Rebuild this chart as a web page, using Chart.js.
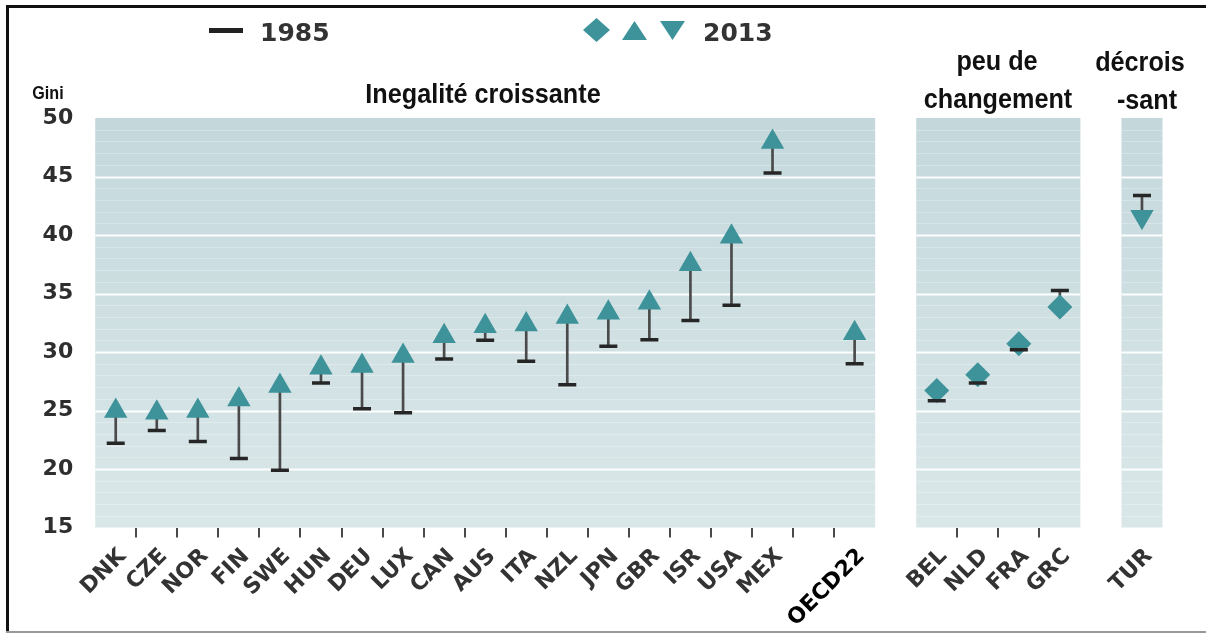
<!DOCTYPE html>
<html>
<head>
<meta charset="utf-8">
<script src="https://cdn.jsdelivr.net/npm/chart.js@4.4.0/dist/chart.umd.min.js"></script>
<style>
html,body{margin:0;padding:0;background:#fff;}
#wrap{position:relative;width:1206px;height:635px;overflow:hidden;background:#fff;}
#chartBox{position:absolute;left:0;top:0;width:1206px;height:635px;}
.line{position:absolute;}
.ttl{position:absolute;white-space:nowrap;font-family:'Liberation Sans',Arial,sans-serif;font-weight:bold;color:#111;font-size:28px;line-height:28px;transform:translateX(-50%) scaleX(0.9);}
.leg{position:absolute;white-space:nowrap;font-family:'DejaVu Sans',sans-serif;font-weight:bold;color:#333;font-size:25px;line-height:25px;}
.mk{position:absolute;background:#3d9399;}
</style>
</head>
<body>
<div id="wrap">
  <div id="chartBox"><canvas id="c"></canvas></div>
  <div class="line" style="left:6px;top:5px;width:3px;height:628px;background:#111;"></div>
  <div class="line" style="left:6px;top:5px;width:1200px;height:3px;background:#111;"></div>
  <div class="line" style="left:6px;top:631px;width:1200px;height:2px;background:#999;"></div>

  <div class="line" style="left:209px;top:28px;width:34px;height:5px;background:#222;"></div>
  <div class="leg" style="left:260px;top:20px;">1985</div>
  <div class="mk" style="left:583px;top:18px;width:27px;height:24px;clip-path:polygon(50% 0,100% 50%,50% 100%,0 50%);"></div>
  <div class="mk" style="left:622px;top:21px;width:25px;height:19px;clip-path:polygon(50% 0,100% 100%,0 100%);"></div>
  <div class="mk" style="left:660px;top:21px;width:25px;height:19px;clip-path:polygon(0 0,100% 0,50% 100%);"></div>
  <div class="leg" style="left:703px;top:20px;">2013</div>

  <div class="ttl" style="left:48px;top:83px;font-size:19px;line-height:19px;transform:translateX(-50%) scaleX(0.85);">Gini</div>
  <div class="ttl" style="left:483px;top:80px;">Inegalité croissante</div>
  <div class="ttl" style="left:997px;top:47px;">peu de</div>
  <div class="ttl" style="left:998px;top:85px;">changement</div>
  <div class="ttl" style="left:1140px;top:48px;">décrois</div>
  <div class="ttl" style="left:1147px;top:86px;">-sant</div>
</div>
<script>
// ---- data (Gini coefficient) ----
const risingCountries = ['DNK','CZE','NOR','FIN','SWE','HUN','DEU','LUX','CAN','AUS','ITA','NZL','JPN','GBR','ISR','USA','MEX'];
const rising1985 = [22.2, 23.3, 22.35, 20.9, 19.9, 27.35, 25.15, 24.8, 29.4, 31.0, 29.2, 27.2, 30.5, 31.05, 32.7, 34.0, 45.3];
const rising2013 = [24.95, 24.8, 24.95, 25.95, 27.1, 28.65, 28.8, 29.65, 31.35, 32.2, 32.35, 33.0, 33.35, 34.2, 37.5, 39.85, 47.95];
const averageCategory = ['OECD22'];
const average1985 = [29.0];
const average2013 = [31.6];
const stableCountries = ['BEL','NLD','FRA','GRC'];
const stable1985 = [25.83, 27.34, 30.2, 35.26];
const stable2013 = [26.7, 28.05, 30.7, 33.85];
const fallingCountries = ['TUR'];
const falling1985 = [43.38];
const falling2013 = [41.55];
const yTicksMin = 15, yTicksMax = 50, yTickStep = 5;

// ---- build the category axis (blank categories separate the panels) ----
const labels = [...risingCountries, '', ...averageCategory, '', ...stableCountries, '', ...fallingCountries];
const values1985 = [...rising1985, null, ...average1985, null, ...stable1985, null, ...falling1985];
const values2013 = [...rising2013, null, ...average2013, null, ...stable2013, null, ...falling2013];
const kinds = [...risingCountries.map(()=>'up'), null, ...averageCategory.map(()=>'up'), null,
               ...stableCountries.map(()=>'flat'), null, ...fallingCountries.map(()=>'down')];
const p1End = risingCountries.length + 1 + averageCategory.length - 1;
const p2Start = p1End + 2, p2End = p2Start + stableCountries.length - 1;
const p3Start = p2End + 2, p3End = p3Start + fallingCountries.length - 1;
const panels = [[0, p1End], [p2Start, p2End], [p3Start, p3End]];
const panelOf = i => panels.findIndex(([a,b]) => i >= a && i <= b);

const teal = '#3d9399';

const panelPlugin = {
  id: 'panels',
  beforeDatasetsDraw(chart) {
    const {ctx, scales} = chart;
    const x = scales.x, y = scales.y;
    const half = (x.getPixelForValue(1) - x.getPixelForValue(0)) / 2;
    const top = y.getPixelForValue(yTicksMax), bottom = y.getPixelForValue(yTicksMin);
    ctx.save();
    const grad = ctx.createLinearGradient(0, top, 0, bottom);
    grad.addColorStop(0, '#c4d8dc');
    grad.addColorStop(1, '#dae7e9');
    panels.forEach(([a, b]) => {
      const l = x.getPixelForValue(a) - half, r = x.getPixelForValue(b) + half;
      ctx.fillStyle = grad;
      ctx.fillRect(l, top, r - l, bottom - top);
      for (let v = yTicksMin + 1; v < yTicksMax; v++) {
        const py = Math.round(y.getPixelForValue(v));
        if (v % yTickStep === 0) {
          ctx.strokeStyle = 'rgba(255,255,255,0.95)'; ctx.lineWidth = 2;
        } else {
          ctx.strokeStyle = 'rgba(255,255,255,0.28)'; ctx.lineWidth = 1;
        }
        ctx.beginPath(); ctx.moveTo(l, py + 0.5); ctx.lineTo(r, py + 0.5); ctx.stroke();
      }
    });
    ctx.restore();
  }
};

new Chart(document.getElementById('c'), {
  type: 'bar',
  data: {
    labels: labels,
    datasets: [
      {
        type: 'line', label: '1985', data: values1985, showLine: false, order: 0,
        pointStyle: 'line', pointRadius: 9, pointHoverRadius: 9,
        pointBorderWidth: 3.5, pointBorderColor: '#262626', pointBackgroundColor: '#262626'
      },
      {
        type: 'line', label: '2013', data: values2013, showLine: false, order: 1,
        pointStyle: c => kinds[c.dataIndex] === 'flat' ? 'rectRot' : 'triangle',
        pointRotation: c => kinds[c.dataIndex] === 'down' ? 180 : 0,
        pointRadius: c => kinds[c.dataIndex] === 'flat' ? 12.5 : 13.5,
        pointHoverRadius: c => kinds[c.dataIndex] === 'flat' ? 12.5 : 13.5,
        pointBorderWidth: 0, pointBackgroundColor: teal, pointBorderColor: teal
      },
      {
        type: 'bar', label: 'change', order: 2,
        data: values1985.map((v, i) => v == null ? null : [v, values2013[i]]),
        backgroundColor: '#4a4a4a', borderWidth: 0, barThickness: 2
      }
    ]
  },
  options: {
    responsive: true, maintainAspectRatio: false, animation: false,
    layout: { padding: { top: 118, right: 43.5, left: 0, bottom: 0 } },
    plugins: { legend: { display: false }, tooltip: { enabled: false } },
    scales: {
      x: {
        type: 'category', offset: true,
        border: { display: false },
        grid: {
          offset: true, drawOnChartArea: false, drawTicks: true, tickLength: 10, lineWidth: 2,
          color: c => {
            const i = c.index;
            if (i === undefined || i < 1 || i >= labels.length) return 'rgba(0,0,0,0)';
            const pa = panelOf(i - 1), pb = panelOf(i);
            return (pa >= 0 && pa === pb) ? '#4a4a4a' : 'rgba(0,0,0,0)';
          }
        },
        ticks: {
          autoSkip: false, maxRotation: 45, minRotation: 45, padding: 6, labelOffset: 7,
          color: c => labels[c.index] === 'OECD22' ? '#000' : '#333',
          font: { family: 'DejaVu Sans', weight: 'bold', size: 22 }
        },
        afterFit: s => { s.height = 107.5; }
      },
      y: {
        min: yTicksMin, max: yTicksMax,
        border: { display: false },
        grid: { display: false, drawTicks: false },
        ticks: { stepSize: yTickStep, padding: 22, color: '#2e2e2e', font: { family: 'DejaVu Sans', weight: 'bold', size: 22 } },
        afterFit: s => { s.width = 95.2; }
      }
    }
  },
  plugins: [panelPlugin]
});
</script>
</body>
</html>
